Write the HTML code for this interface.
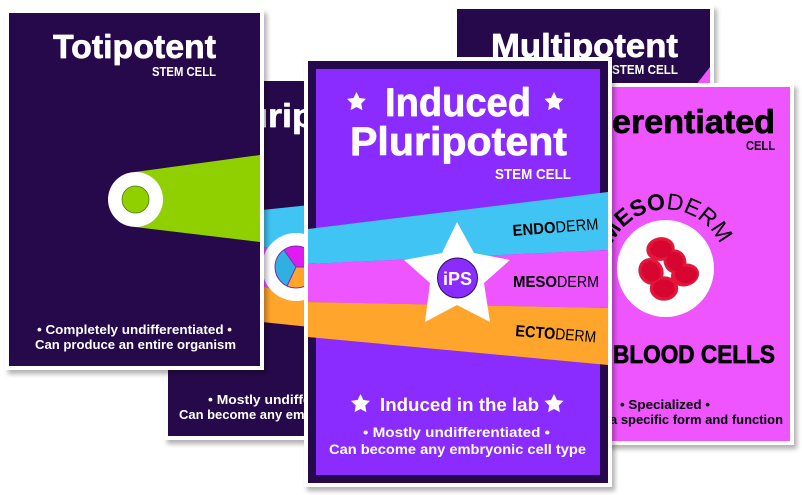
<!DOCTYPE html>
<html><head><meta charset="utf-8"><style>
html,body{margin:0;padding:0;background:#fff;width:802px;height:495px;overflow:hidden}
svg{display:block}
text{font-family:"Liberation Sans",sans-serif;font-weight:bold;fill:#fff}
.k{fill:#000}.r{font-weight:normal}
.t{stroke:#fff;stroke-width:.7;stroke-linejoin:round}
.tk{stroke:#000;stroke-width:.7;stroke-linejoin:round}
</style></head><body>
<svg width="802" height="495" viewBox="0 0 802 495" xmlns="http://www.w3.org/2000/svg">
<defs>
<filter id="s" x="-10%" y="-10%" width="125%" height="125%"><feDropShadow dx="3" dy="4" stdDeviation="2.5" flood-color="#000" flood-opacity=".3"/></filter>
<clipPath id="cp"><rect x="168" y="81" width="240" height="355"/></clipPath>
<polygon id="star" points="0,-10 2.940,-4.050 9.510,-3.090 4.760,1.550 5.880,8.090 0,5 -5.880,8.090 -4.760,1.550 -9.510,-3.090 -2.940,-4.050"/>
</defs>

<!-- Multipotent -->
<g filter="url(#s)"><rect x="453" y="5" width="261" height="200" fill="#fff"/></g>
<rect x="457" y="9" width="253" height="190" fill="#26094a"/>
<path d="M710 67Q703 76 692 90H710Z" fill="#ee55ff"/>
<text class="t" x="491" y="57" font-size="33" textLength="187" lengthAdjust="spacingAndGlyphs">Multipotent</text>
<text x="612" y="74" font-size="12.500" textLength="66" lengthAdjust="spacingAndGlyphs">STEM CELL</text>

<!-- Differentiated -->
<g filter="url(#s)"><rect x="540" y="83" width="254" height="362" fill="#fff"/></g>
<rect x="544" y="87" width="246" height="354" fill="#ee55ff"/>
<text class="k tk" x="550" y="133" font-size="33" textLength="60" lengthAdjust="spacingAndGlyphs">Diff</text>
<text class="k tk" x="612" y="133" font-size="33" textLength="163" lengthAdjust="spacingAndGlyphs">erentiated</text>
<text class="k" x="746" y="150" font-size="12.500" textLength="29" lengthAdjust="spacingAndGlyphs">CELL</text>
<path id="arc" d="M607 268.500A59 59 0 0 1 725 268.500" fill="none"/>
<text class="k" font-size="23" text-anchor="middle"><textPath href="#arc" startOffset="50%">MESO<tspan class="r">DERM</tspan></textPath></text>
<circle cx="665.500" cy="268.500" r="48.500" fill="#fff"/>
<g stroke="#a8344a" stroke-width=".5" fill="#ea1339">
<ellipse cx="685" cy="275" rx="14" ry="11" transform="rotate(-15 685 275)"/>
<ellipse cx="660.500" cy="249" rx="14" ry="11.500" transform="rotate(-10 660.500 249)"/>
<ellipse cx="651" cy="271.500" rx="12" ry="13.500" transform="rotate(-30 651 271.500)"/>
<ellipse cx="675" cy="261.500" rx="11" ry="12" transform="rotate(-25 675 261.500)"/>
<ellipse cx="664" cy="288.500" rx="14" ry="12"/>
</g>
<g fill="#d60630">
<ellipse cx="686" cy="275" rx="11" ry="8.500"/>
<ellipse cx="661" cy="249" rx="11" ry="8.500"/>
<ellipse cx="651" cy="271.500" rx="9" ry="10.500" transform="rotate(-30 651 271.500)"/>
<ellipse cx="675" cy="261.500" rx="8.500" ry="9.500" transform="rotate(-25 675 261.500)"/>
<ellipse cx="664" cy="288.500" rx="11" ry="9"/>
</g>
<text class="k tk" x="613" y="363" font-size="25" textLength="162" lengthAdjust="spacingAndGlyphs">BLOOD CELLS</text>
<text class="k" x="620" y="409" font-size="13" textLength="90" lengthAdjust="spacingAndGlyphs">• Specialized •</text>
<text class="k" x="610" y="424" font-size="13" textLength="173" lengthAdjust="spacingAndGlyphs">a specific form and function</text>

<!-- Pluripotent -->
<g filter="url(#s)"><rect x="164" y="77" width="248" height="363" fill="#fff"/></g>
<rect x="168" y="81" width="240" height="355" fill="#26094a"/>
<text class="t" x="212" y="127" font-size="33" textLength="190" lengthAdjust="spacingAndGlyphs">Pluripotent</text>
<g clip-path="url(#cp)">
<polygon points="262,210 310,205 310,264 262,246" fill="#40c4f4"/>
<polygon points="262,246 310,264 310,303 262,286" fill="#ee55ff"/>
<polygon points="262,286 310,302 310,327 262,322" fill="#ffa52c"/>
</g>
<circle cx="296" cy="267" r="34" fill="#fff"/>
<circle cx="296" cy="267" r="21" fill="#ffa52c"/>
<path d="M296 267L284 250A21 21 0 0 1 317 266Z" fill="#e01af0"/>
<path d="M296 267L284 250A21 21 0 0 0 287 286Z" fill="#2fb0e0"/>
<circle cx="296" cy="267" r="21" fill="none" stroke="#7a2bb8" stroke-width="1"/>
<path d="M284 250L296 267L287 286M296 267H317" fill="none" stroke="#7a2bb8" stroke-width="1"/>
<text x="208" y="404" font-size="13" textLength="170" lengthAdjust="spacingAndGlyphs">• Mostly undifferentiated •</text>
<text x="179" y="419" font-size="13" textLength="228" lengthAdjust="spacingAndGlyphs">Can become any embryonic cell type</text>

<!-- Totipotent -->
<g filter="url(#s)"><rect x="5" y="9" width="259" height="361" fill="#fff"/></g>
<rect x="9" y="13" width="251" height="353" fill="#26094a"/>
<polygon points="135,172 260,155 260,242 135,227" fill="#90d000"/>
<circle cx="135.500" cy="199.500" r="27.500" fill="#fff"/>
<circle cx="135.500" cy="199.500" r="13.500" fill="#90d000" stroke="#4f7a10" stroke-width=".8"/>
<text class="t" x="53" y="58" font-size="33" textLength="163" lengthAdjust="spacingAndGlyphs">Totipotent</text>
<text x="152" y="76" font-size="12.500" textLength="64" lengthAdjust="spacingAndGlyphs">STEM CELL</text>
<text x="37" y="334" font-size="13" textLength="195" lengthAdjust="spacingAndGlyphs">• Completely undifferentiated •</text>
<text x="35" y="349" font-size="13" textLength="201" lengthAdjust="spacingAndGlyphs">Can produce an entire organism</text>

<!-- Induced Pluripotent -->
<g filter="url(#s)"><rect x="304" y="57" width="308" height="430" fill="#fff"/></g>
<rect x="308" y="61" width="300" height="422" fill="#26094a"/>
<rect x="316" y="69" width="284" height="406" fill="#8a2bff"/>
<polygon points="308,229 608,192 608,250 308,264" fill="#40c4f4"/>
<polygon points="308,264 608,250 608,308 308,302" fill="#ee55ff"/>
<polygon points="308,302 608,308 608,365 308,337" fill="#ffa52c"/>
<polygon points="457,222 474,253 510,260 484,283 490,322 457,305 425,322 430,283 404,260 442,253" fill="#fff"/>
<circle cx="457.500" cy="278" r="20" fill="#8a2bff" stroke="#2a1050" stroke-width="1"/>
<text x="443" y="285" font-size="18" textLength="29" lengthAdjust="spacingAndGlyphs">iPS</text>
<text class="t" x="385" y="116" font-size="40" textLength="146" lengthAdjust="spacingAndGlyphs">Induced</text>
<text class="t" x="350" y="155" font-size="40" textLength="217" lengthAdjust="spacingAndGlyphs">Pluripotent</text>
<text x="495" y="179" font-size="15" textLength="76" lengthAdjust="spacingAndGlyphs">STEM CELL</text>
<g fill="#fff">
<use href="#star" x="356.500" y="102"/>
<use href="#star" x="554" y="102"/>
<use href="#star" x="360.500" y="404"/>
<use href="#star" x="554" y="404"/>
</g>
<text x="380" y="411" font-size="18" textLength="159" lengthAdjust="spacingAndGlyphs">Induced in the lab</text>
<text x="363" y="437" font-size="14" textLength="187" lengthAdjust="spacingAndGlyphs">• Mostly undifferentiated •</text>
<text x="329" y="454" font-size="14" textLength="257" lengthAdjust="spacingAndGlyphs">Can become any embryonic cell type</text>
<g transform="rotate(-4.500 513 236)">
<text class="k" x="513" y="236" font-size="16" textLength="43" lengthAdjust="spacingAndGlyphs">ENDO</text>
<text class="k r" x="556" y="236" font-size="16" textLength="43" lengthAdjust="spacingAndGlyphs">DERM</text>
</g>
<text class="k" x="513" y="287" font-size="16" textLength="44" lengthAdjust="spacingAndGlyphs">MESO</text>
<text class="k r" x="557" y="287" font-size="16" textLength="42" lengthAdjust="spacingAndGlyphs">DERM</text>
<g transform="rotate(4.500 515 336)">
<text class="k" x="515" y="336" font-size="16" textLength="40" lengthAdjust="spacingAndGlyphs">ECTO</text>
<text class="k r" x="555" y="336" font-size="16" textLength="41" lengthAdjust="spacingAndGlyphs">DERM</text>
</g>
</svg>
</body></html>
